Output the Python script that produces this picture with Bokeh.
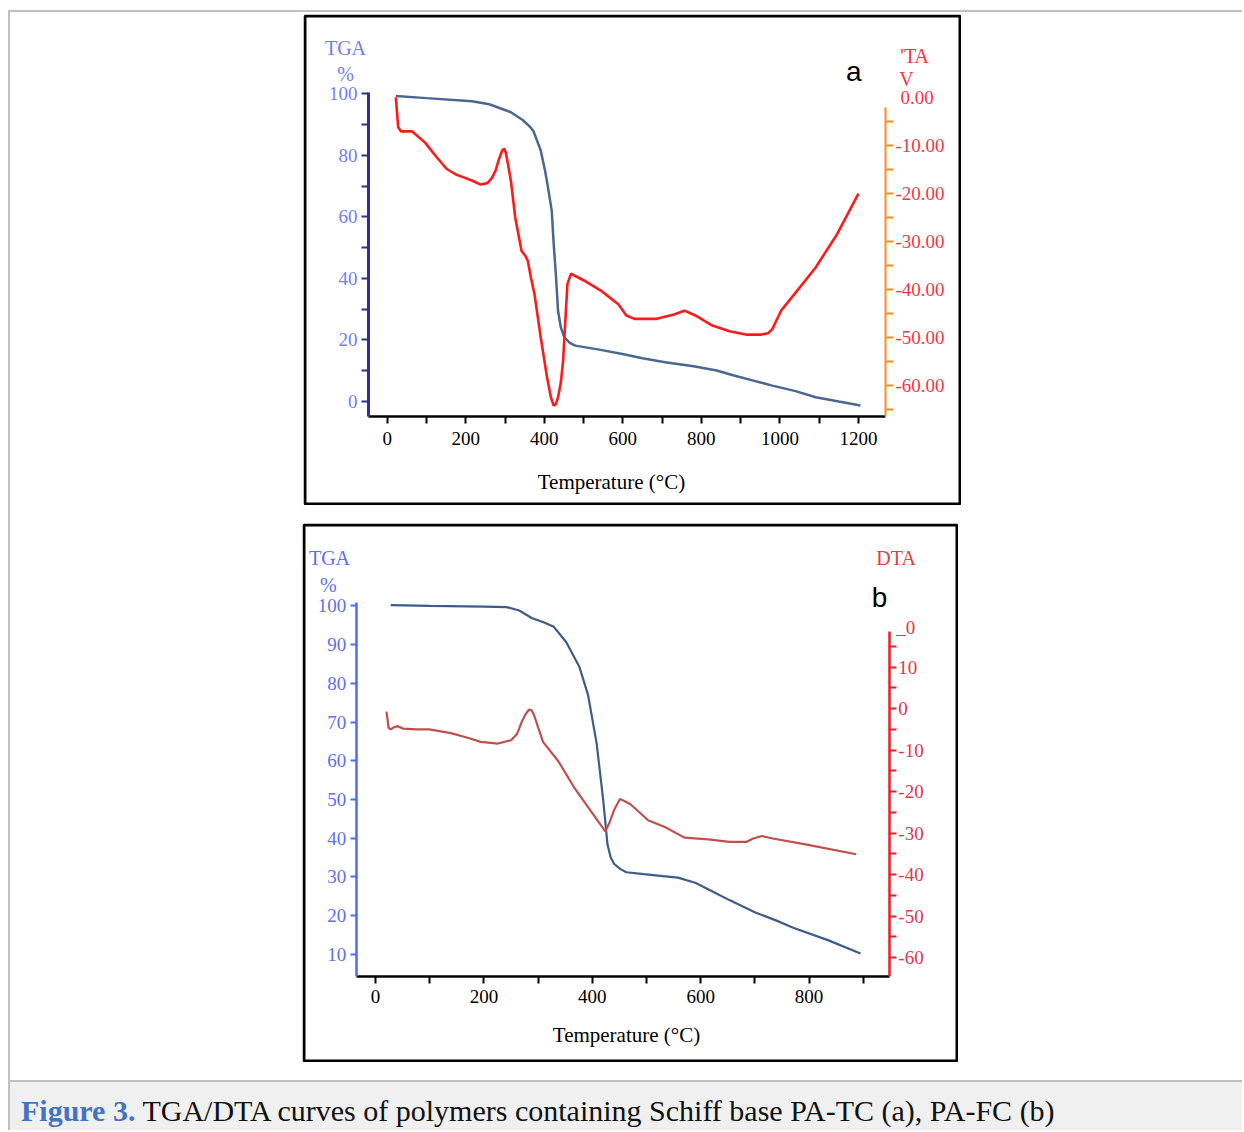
from bokeh.plotting import figure
from bokeh.models import (LinearAxis, Range1d, FixedTicker, Label, Div, Spacer, BoxAnnotation)
from bokeh.layouts import column, row
from bokeh.embed import file_html
from bokeh.resources import INLINE

# ---------------- data: panel a (PA-TC) ----------------
tga_a_T = [22, 100, 216, 260, 315, 345, 362, 372, 391, 402, 408, 419, 424, 430, 435, 442, 451,
           465, 479, 540, 599, 650, 708, 780, 839, 883, 930, 981, 1040, 1091, 1150, 1205]
tga_a_W = [99.3, 98.6, 97.6, 96.6, 94.0, 91.5, 89.5, 88.0, 81.6, 75.0, 70.7, 62.0, 51.2, 40.3, 29.5,
           24.1, 20.8, 19.0, 18.1, 16.8, 15.4, 14.0, 12.7, 11.4, 10.0, 8.4, 6.8, 5.1, 3.3, 1.3, -0.1, -1.4]

dta_a_T = [22, 25, 28, 35, 42, 63, 96, 125, 151, 175, 195, 220, 238, 255, 266, 276, 285, 293,
           298, 302, 308, 315, 326, 342, 352, 358, 366, 375, 391, 407, 417, 424, 430, 435, 442,
           448, 454, 459, 468, 501, 544, 575, 588, 609, 630, 643, 686, 730, 757, 785, 828, 872,
           916, 950, 970, 981, 1003, 1058, 1091, 1146, 1200]
dta_a_V = [0.1, -3.0, -6.1, -7.0, -7.0, -7.0, -9.3, -12.3, -14.8, -16.0, -16.6, -17.4, -18.1, -17.8,
           -16.8, -15.2, -12.7, -11.0, -10.6, -11.4, -14.0, -17.3, -24.9, -31.9, -33.0, -34.0, -37.5,
           -40.9, -50.0, -58.3, -62.5, -64.2, -63.8, -62.5, -59.5, -54.8, -46.0, -38.8, -36.7, -38.1,
           -40.2, -42.2, -43.0, -45.4, -46.1, -46.1, -46.1, -45.2, -44.4, -45.4, -47.5, -48.7, -49.4,
           -49.4, -49.1, -48.2, -44.4, -38.8, -35.4, -28.4, -20.0]

# ---------------- data: panel b (PA-FC) ----------------
tga_b_T = [28, 100, 200, 242, 265, 289, 310, 329, 352, 376, 392, 408, 420, 428, 434, 440, 452,
           463, 495, 530, 558, 590, 622, 653, 701, 740, 772, 836, 895]
tga_b_W = [100.2, 100.0, 99.8, 99.7, 98.8, 96.8, 95.8, 94.6, 90.6, 84.3, 77.1, 64.5, 50.0, 38.4,
           35.0, 33.4, 32.0, 31.2, 30.7, 30.2, 29.8, 28.5, 26.2, 24.0, 20.8, 18.7, 16.8, 13.6, 10.2]

dta_b_T = [20, 22, 24, 28, 32, 40, 51, 75, 99, 139, 170, 194, 226, 250, 261, 265, 269, 276, 283,
           288, 293, 300, 309, 337, 368, 400, 424, 431, 440, 451, 460, 471, 503, 535, 570, 614,
           653, 685, 697, 713, 733, 796, 887]
dta_b_V = [-0.7, -2.5, -4.6, -5.0, -4.6, -4.2, -4.8, -5.0, -5.0, -5.9, -7.0, -8.0, -8.4, -7.6,
           -6.1, -4.8, -3.4, -1.5, -0.2, -0.4, -1.7, -4.5, -8.0, -12.6, -19.3, -25.2, -29.6,
           -27.7, -24.5, -21.8, -22.3, -23.1, -26.9, -28.6, -31.1, -31.5, -32.1, -32.1, -31.3,
           -30.7, -31.3, -32.8, -35.1]

# tick definitions
a_x_major = [0, 200, 400, 600, 800, 1000, 1200]
a_x_minor = [100, 300, 500, 700, 900, 1100]
a_y_major = [0, 20, 40, 60, 80, 100]
a_y_minor = [10, 30, 50, 70, 90]
a_r_major = [-60, -50, -40, -30, -20, -10]
a_r_minor = [-65, -55, -45, -35, -25, -15, -5]
a_r_labels = ["-60.00", "-50.00", "-40.00", "-30.00", "-20.00", "-10.00"]

b_x_major = [0, 200, 400, 600, 800]
b_x_minor = [100, 300, 500, 700, 900]
b_y_major = [10, 20, 30, 40, 50, 60, 70, 80, 90, 100]
b_r_major = [-60, -50, -40, -30, -20, -10, 0, 10]
b_r_minor = [-55, -45, -35, -25, -15, -5, 5, 15]
b_r_labels = ["-60", "-50", "-40", "-30", "-20", "-10", "0", "10"]

SERIF = "Liberation Serif"
TICK_FS = "19px"


def style_axis(ax, line_color, label_color, lw=2, tick_len=7, standoff=5):
    ax.axis_line_color = line_color
    ax.axis_line_width = lw
    ax.major_tick_line_color = line_color
    ax.minor_tick_line_color = line_color
    ax.major_tick_line_width = 2
    ax.minor_tick_line_width = 2
    ax.major_tick_out = tick_len
    ax.minor_tick_out = tick_len
    ax.major_tick_in = 0
    ax.minor_tick_in = 0
    ax.major_label_text_color = label_color
    ax.major_label_text_font = SERIF
    ax.major_label_text_font_size = TICK_FS
    ax.major_label_standoff = standoff


def add_label(p, x, y, text, color, size="19px", font=SERIF, align="center", range_name="default"):
    p.add_layout(Label(x=x, y=y, text=text, text_color=color, text_font=font, text_font_size=size,
                       text_align=align, text_baseline="middle", y_range_name=range_name))


def border(p, w, h):
    p.add_layout(BoxAnnotation(left=1.5, right=w - 1.5, top=1.5, bottom=h - 1.5,
                               left_units="canvas", right_units="canvas",
                               top_units="canvas", bottom_units="canvas",
                               fill_alpha=0, line_color="black", line_width=3, line_alpha=1))


def make_fig(w, h, xr, yr, rr):
    p = figure(width=w, height=h, x_range=Range1d(*xr), y_range=Range1d(*yr), title=None,
               output_backend="svg", toolbar_location=None,
               min_border=0, min_border_left=0, min_border_right=0,
               min_border_top=0, min_border_bottom=0,
               background_fill_color="white", border_fill_color="white")
    p.grid.visible = False
    p.outline_line_color = None
    p.extra_y_ranges = {"dta": Range1d(*rr)}
    return p


# ---------------- panel a ----------------
WA, HA = 658, 491
pa = make_fig(WA, HA, (-213.1, 1462.4), (-33.9, 125.8), (-85.03, 17.37))
AX_L, AX_R, AX_B, AX_T = -47.6, 1268.9, -4.98, 100.3

pa.xaxis.ticker = FixedTicker(ticks=a_x_major, minor_ticks=a_x_minor)
pa.xaxis.fixed_location = AX_B
pa.xaxis.bounds = (AX_L, AX_R)
style_axis(pa.xaxis[0], "black", "black", lw=2.5, standoff=8)

pa.yaxis.ticker = FixedTicker(ticks=a_y_major, minor_ticks=a_y_minor)
pa.yaxis.fixed_location = AX_L
pa.yaxis.bounds = (AX_B, AX_T)
style_axis(pa.yaxis[0], "#2e3192", "#7080f0", lw=3, standoff=4)

ra = LinearAxis(y_range_name="dta", ticker=FixedTicker(ticks=a_r_major, minor_ticks=a_r_minor),
                fixed_location=AX_R, bounds=(-66.5, -2.0),
                major_label_overrides=dict(zip(a_r_major, a_r_labels)))
style_axis(ra, "#ff8c1a", "#ff3344", lw=2, tick_len=8, standoff=2)
pa.add_layout(ra, "right")

pa.line(tga_a_T, tga_a_W, line_color="#4a6792", line_width=2.5)
pa.line(dta_a_T, dta_a_V, line_color="#ff1a1a", line_width=2.6, y_range_name="dta")

add_label(pa, -106.2, 114.8, "TGA", "#7080f0", size="20px")
add_label(pa, -106.2, 106.3, "%", "#7080f0", size="20px")
add_label(pa, 1343, 112.4, "'TA", "#ff3344", size="20px")
add_label(pa, 1322, 104.7, "V", "#ff3344", size="20px")
add_label(pa, 1307, 98.7, "0.00", "#ff3344", align="left")
add_label(pa, 1188, 107.4, "a", "black", size="28px", font="Liberation Sans")
add_label(pa, 571, -26.4, "Temperature (°C)", "black", size="21px")
border(pa, WA, HA)

# ---------------- panel b ----------------
WB, HB = 656, 539
pb = make_fig(WB, HB, (-134.9, 1075.9), (-17.95, 121.29), (-85.33, 44.67))
BX_L, BX_R, BX_B, BX_T = -35.8, 948.3, 4.16, 100.9

pb.xaxis.ticker = FixedTicker(ticks=b_x_major, minor_ticks=b_x_minor)
pb.xaxis.fixed_location = BX_B
pb.xaxis.bounds = (BX_L, BX_R)
style_axis(pb.xaxis[0], "black", "black", lw=2.5, standoff=6)

pb.yaxis.ticker = FixedTicker(ticks=b_y_major, minor_ticks=[])
pb.yaxis.fixed_location = BX_L
pb.yaxis.bounds = (BX_B, BX_T)
style_axis(pb.yaxis[0], "#4d6bff", "#5d70f0", lw=2.5, tick_len=6, standoff=4)

rb = LinearAxis(y_range_name="dta", ticker=FixedTicker(ticks=b_r_major, minor_ticks=b_r_minor),
                fixed_location=BX_R, bounds=(-64.7, 18.67),
                major_label_overrides=dict(zip(b_r_major, b_r_labels)))
style_axis(rb, "#ee1c25", "#e8334a", lw=2.5, tick_len=7, standoff=2)
pb.add_layout(rb, "right")

pb.line(tga_b_T, tga_b_W, line_color="#3e5c8a", line_width=2.2)
pb.line(dta_b_T, dta_b_V, line_color="#c0504d", line_width=2.2, y_range_name="dta")

add_label(pb, -85.1, 112.4, "TGA", "#5d70f0", size="20px")
add_label(pb, -87.0, 105.4, "%", "#5d70f0", size="20px")
add_label(pb, 960.7, 112.4, "DTA", "#e04040", size="20px")
add_label(pb, 930, 102.2, "b", "black", size="28px", font="Liberation Sans")
add_label(pb, 961, 94.4, "_0", "#e8334a", align="left")
add_label(pb, 463.1, -10.85, "Temperature (°C)", "black", size="21px")
border(pb, WB, HB)

# ---------------- page layout ----------------
GREY = "#c0c0c0"
top_gap = Spacer(width=10, height=10)
top_line = row(Spacer(width=8, height=2), Spacer(width=1234, height=2, styles={"background-color": GREY}))
left_line = Spacer(width=2, height=1068, styles={"background-color": GREY})
inner = column(Spacer(width=10, height=2),
               row(Spacer(width=293, height=10), pa),
               Spacer(width=10, height=18),
               row(Spacer(width=292, height=10), pb),
               Spacer(width=10, height=18))
body = row(Spacer(width=8, height=10), left_line, inner)

cap_html = ('<div style="font-family:\'Liberation Serif\';font-size:30px;line-height:34px;'
            'padding:12px 0 0 11px;white-space:nowrap;color:#111;">'
            '<span style="color:#4472c4;font-weight:bold;">Figure 3.</span> '
            'TGA/DTA curves of polymers containing Schiff base PA-TC (a), PA-FC (b)</div>')
cap_line = Spacer(width=1234, height=2, styles={"background-color": GREY})
cap_left = Spacer(width=2, height=48, styles={"background-color": GREY})
cap_div = Div(text=cap_html, width=1232, height=48, margin=0,
              styles={"background-color": "#f0f0f0", "margin": "0", "padding": "0"})
caption = row(Spacer(width=8, height=10), column(cap_line, row(cap_left, cap_div)))

root = column(top_gap, top_line, body, caption)

open("out.html", "w").write(file_html(root, INLINE))
